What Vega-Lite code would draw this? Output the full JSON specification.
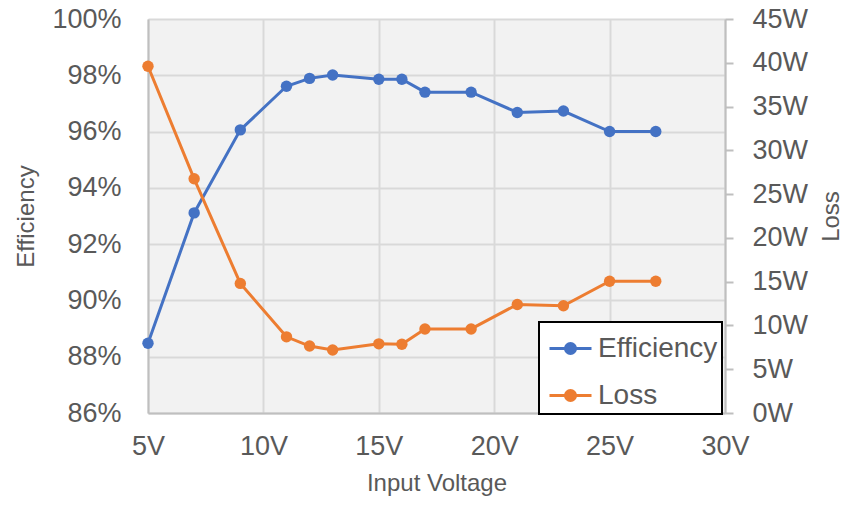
{
  "$schema": "https://vega.github.io/schema/vega-lite/v6.json",
  "width": 577,
  "height": 394,
  "autosize": "none",
  "padding": {"left": 148, "top": 19, "right": 129, "bottom": 96},
  "background": "white",
  "config": {
    "view": {"fill": "#f2f2f2", "stroke": null},
    "font": "Liberation Sans",
    "axis": {
      "labelFont": "Liberation Sans",
      "titleFont": "Liberation Sans",
      "labelColor": "#595959",
      "titleColor": "#595959",
      "labelFontSize": 27,
      "titleFontSize": 24,
      "titleFontWeight": "normal",
      "domainColor": "#bfbfbf",
      "domainWidth": 2,
      "gridColor": "#d9d9d9",
      "gridWidth": 2,
      "tickColor": "#bfbfbf",
      "tickWidth": 2,
      "labelFlush": false
    }
  },
  "data": {
    "values": [
      {"v": 5, "series": "Efficiency", "value": 0.8848},
      {"v": 7, "series": "Efficiency", "value": 0.9311},
      {"v": 9, "series": "Efficiency", "value": 0.9606},
      {"v": 11, "series": "Efficiency", "value": 0.9761},
      {"v": 12, "series": "Efficiency", "value": 0.9789},
      {"v": 13, "series": "Efficiency", "value": 0.9801},
      {"v": 15, "series": "Efficiency", "value": 0.9786},
      {"v": 16, "series": "Efficiency", "value": 0.9786},
      {"v": 17, "series": "Efficiency", "value": 0.9740},
      {"v": 19, "series": "Efficiency", "value": 0.9740},
      {"v": 21, "series": "Efficiency", "value": 0.9668},
      {"v": 23, "series": "Efficiency", "value": 0.9673},
      {"v": 25, "series": "Efficiency", "value": 0.9600},
      {"v": 27, "series": "Efficiency", "value": 0.9600},
      {"v": 5, "series": "Loss", "value": 39.6},
      {"v": 7, "series": "Loss", "value": 26.75},
      {"v": 9, "series": "Loss", "value": 14.8},
      {"v": 11, "series": "Loss", "value": 8.7},
      {"v": 12, "series": "Loss", "value": 7.65},
      {"v": 13, "series": "Loss", "value": 7.2},
      {"v": 15, "series": "Loss", "value": 7.9},
      {"v": 16, "series": "Loss", "value": 7.85},
      {"v": 17, "series": "Loss", "value": 9.6},
      {"v": 19, "series": "Loss", "value": 9.6},
      {"v": 21, "series": "Loss", "value": 12.4},
      {"v": 23, "series": "Loss", "value": 12.25},
      {"v": 25, "series": "Loss", "value": 15.05},
      {"v": 27, "series": "Loss", "value": 15.05}
    ]
  },
  "encoding": {
    "x": {
      "field": "v",
      "type": "quantitative",
      "scale": {"domain": [5, 30], "nice": false, "zero": false},
      "axis": {
        "values": [5, 10, 15, 20, 25, 30],
        "labelExpr": "datum.value + 'V'",
        "title": "Input Voltage",
        "ticks": false,
        "tickSize": 0,
        "labelPadding": 20,
        "titlePadding": 12,
        "grid": true
      }
    },
    "color": {
      "field": "series",
      "type": "nominal",
      "scale": {"domain": ["Efficiency", "Loss"], "range": ["#4472C4", "#ED7D31"]},
      "legend": {
        "orient": "none",
        "legendX": 391,
        "legendY": 303,
        "title": null,
        "strokeColor": "black",
        "fillColor": "white",
        "padding": 4,
        "symbolOffset": 5,
        "labelFont": "Liberation Sans",
        "labelFontSize": 28,
        "labelColor": "#595959",
        "labelOffset": 5,
        "rowPadding": 10,
        "symbolType": "M-1,0H1M0.24,0A0.24,0.24,0,1,1,-0.24,0A0.24,0.24,0,1,1,0.24,0Z",
        "symbolSize": 1764,
        "symbolStrokeWidth": 3,
        "encode": {
          "symbols": {
            "update": {
              "fill": {"scale": "color", "field": "value"},
              "stroke": {"scale": "color", "field": "value"},
              "strokeWidth": {"value": 3}
            }
          },
          "legend": {"update": {"strokeWidth": {"value": 2}}}
        }
      }
    }
  },
  "layer": [
    {
      "transform": [{"filter": "datum.series === 'Efficiency'"}],
      "mark": {"type": "line", "strokeWidth": 3, "point": {"filled": true, "size": 130}},
      "encoding": {
        "y": {
          "field": "value",
          "type": "quantitative",
          "scale": {"domain": [0.86, 1.0], "nice": false, "zero": false},
          "axis": {
            "orient": "left",
            "values": [0.86, 0.88, 0.9, 0.92, 0.94, 0.96, 0.98, 1.0],
            "format": ".0%",
            "title": "Efficiency",
            "ticks": false,
            "tickSize": 0,
            "labelPadding": 27,
            "titlePadding": 13,
            "grid": true
          }
        }
      }
    },
    {
      "transform": [{"filter": "datum.series === 'Loss'"}],
      "mark": {"type": "line", "strokeWidth": 3, "point": {"filled": true, "size": 130}},
      "encoding": {
        "y": {
          "field": "value",
          "type": "quantitative",
          "scale": {"domain": [0, 45], "nice": false},
          "axis": {
            "orient": "right",
            "values": [0, 5, 10, 15, 20, 25, 30, 35, 40, 45],
            "labelExpr": "datum.value + 'W'",
            "title": "Loss",
            "titleAngle": 270,
            "titleBaseline": "top",
            "ticks": true,
            "tickSize": 8,
            "labelPadding": 19,
            "titlePadding": 12,
            "grid": false
          }
        }
      }
    }
  ],
  "resolve": {"scale": {"y": "independent"}}
}
